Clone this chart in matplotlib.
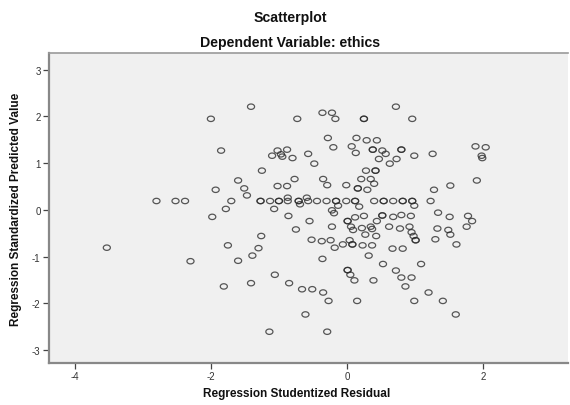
import numpy as np
import matplotlib
matplotlib.use("Agg")
import matplotlib.pyplot as plt
from matplotlib.path import Path

# Regression studentized residual (x) and standardized predicted value (y)
resid_x = [
    -2.00, -1.85, -1.93, -2.80, -2.52, -2.38, -1.78, -1.70, -1.98, -3.53, -1.75, -2.30, -1.81,
    -1.41, -0.73, -0.36, -0.22, -0.17, 0.25, 0.25, -0.28, -0.20, 0.14, 0.29, 0.44, 0.07, 0.13,
    0.38, 0.38, 0.52, 0.57, 0.47, 0.63, -1.02, -1.10, -0.97, -0.95, -0.88, -0.80, -0.57, -0.48,
    -1.25, 0.28, 0.42, 0.42, -1.60, -1.51, -1.47, -1.02, -0.88, -0.77, -0.35, -0.29, -0.01,
    0.21, 0.35, 0.16, 0.16, 0.30, 0.40,
    -1.27, -1.27, -1.13, -1.00, -1.00, -0.87, -0.71, -0.71, -0.57, -0.44, -0.30, -0.16, -0.16,
    -0.01, 0.12, 0.12, 0.40, 0.54, 0.54, 0.68, 0.82, 0.82, 0.96, 0.96, 1.23,
    -1.07, -0.87, -0.69, -0.59, -0.13, 0.18,
    -0.86, -0.55, -0.22, -0.19, 0.01, 0.01, 0.12, 0.25, 0.52, 0.52, 0.44, 0.62, -0.75, -0.22,
    0.06, 0.09, 0.22, 0.35, 0.37, 0.27, 0.43, -1.26, -0.52, -0.37, -0.24, -0.18, -0.06, 0.04,
    0.08, 0.08, 0.23, 0.37, 0.67, -1.30, -1.39, -1.60, -0.36, 0.32, 0.53, 0.01, 0.01,
    0.05, 0.11, 0.39, -1.06, -1.41, -0.85, -0.66, -0.51, -0.35, -0.27, 0.15, -0.61, -1.14, -0.29,
    0.72, 0.96, 1.89, 2.04, 1.98, 1.99, 1.91, 1.52, 1.28, 1.26, 0.99, 0.80, 0.80, 0.73,
    0.99, 0.68, 0.80, 0.94, 1.34, 1.51, 1.78, 1.84, 1.76, 0.78, 0.92, 0.95, 0.98, 1.01, 1.01,
    1.33, 1.49, 1.52, 1.30, 1.61, 0.82, 1.09, 0.72, 0.80, 0.95, 0.86, 1.20, 0.99, 1.41, 1.60,
]
pred_y = [
    1.95, 1.27, 0.43, 0.19, 0.19, 0.19, 0.02, 0.19, -0.15, -0.81, -0.76, -1.10, -1.64,
    2.21, 1.95, 2.08, 2.08, 1.95, 1.95, 1.95, 1.54, 1.34, 1.54, 1.49, 1.49, 1.36, 1.22,
    1.29, 1.29, 1.27, 1.20, 1.09, 0.99, 1.27, 1.16, 1.19, 1.14, 1.29, 1.11, 1.20, 0.99,
    0.84, 0.84, 0.84, 0.84, 0.63, 0.46, 0.31, 0.51, 0.51, 0.66, 0.66, 0.53, 0.53,
    0.66, 0.66, 0.46, 0.46, 0.43, 0.56,
    0.19, 0.19, 0.19, 0.19, 0.19, 0.19, 0.19, 0.19, 0.19, 0.19, 0.19, 0.19, 0.19,
    0.19, 0.19, 0.19, 0.19, 0.19, 0.19, 0.19, 0.19, 0.19, 0.19, 0.19, 0.19,
    0.02, 0.26, 0.12, 0.26, 0.09, 0.07,
    -0.13, -0.24, -0.01, -0.07, -0.24, -0.24, -0.16, -0.13, -0.12, -0.12, -0.24, -0.36, -0.42, -0.36,
    -0.36, -0.43, -0.39, -0.36, -0.41, -0.53, -0.56, -0.56, -0.64, -0.67, -0.65, -0.81, -0.74, -0.65,
    -0.74, -0.74, -0.76, -0.76, -0.83, -0.82, -0.98, -1.09, -1.05, -0.98, -1.16, -1.29, -1.29,
    -1.39, -1.51, -1.51, -1.39, -1.57, -1.57, -1.70, -1.70, -1.77, -1.95, -1.95, -2.24, -2.61, -2.61,
    2.21, 1.95, 1.36, 1.34, 1.16, 1.11, 0.63, 0.52, 0.43, 1.20, 1.16, 1.29, 1.29, 1.09,
    0.09, -0.15, -0.11, -0.13, -0.06, -0.15, -0.13, -0.24, -0.36, -0.40, -0.36, -0.48, -0.56, -0.65, -0.65,
    -0.40, -0.43, -0.53, -0.63, -0.74, -0.83, -1.16, -1.30, -1.45, -1.45, -1.64, -1.77, -1.95, -1.95, -2.24,
]

x_ticks = [-4, -2, 0, 2]
y_ticks = [-3, -2, -1, 0, 1, 2, 3]

plt.rcParams['font.family'] = ['Liberation Sans', 'DejaVu Sans']

fig = plt.figure(figsize=(5.70, 4.06), dpi=100)
ax = fig.add_axes([49 / 570, 1 - 364 / 406, (568 - 49) / 570, (364 - 54) / 406])
ax.set_facecolor('#f0f0f0')

t = np.linspace(0, 2 * np.pi, 41)
ell = Path(np.column_stack([np.cos(t), 0.76 * np.sin(t)]), closed=True)

ax.scatter(resid_x, pred_y, s=26, marker=ell, facecolors='none',
           edgecolors='#2a2a2a', linewidths=0.9, alpha=0.78, zorder=3)

ax.set_xlim(-4.38, 3.25)
ax.set_ylim(-3.28, 3.36)
ax.set_xticks(x_ticks)
ax.set_yticks(y_ticks)
ax.set_xticklabels([str(v) for v in x_ticks])
ax.set_yticklabels([str(v) for v in y_ticks])
ax.tick_params(axis='both', direction='out', length=4, width=0.9, color='#444444',
               labelsize=7, labelcolor='#333333', pad=2)

for side in ['left', 'bottom']:
    ax.spines[side].set_color('#888888')
    ax.spines[side].set_linewidth(1.6)
ax.spines['top'].set_color('#9a9a9a')
ax.spines['top'].set_linewidth(1.2)
ax.spines['right'].set_visible(False)

fig.text(290 / 570, 1 - 18 / 406, 'Scatterplot', ha='center', va='center',
         fontsize=10.2, fontweight='bold', color='#111111')
fig.text(290 / 570, 1 - 43.5 / 406, 'Dependent Variable: ethics', ha='center', va='center',
         fontsize=10.2, fontweight='bold', color='#111111')
fig.text(297 / 570, 1 - 394 / 406, 'Regression Studentized Residual', ha='center', va='center',
         fontsize=8.5, fontweight='bold', color='#111111')
fig.text(16.5 / 570, 1 - 209 / 406, 'Regression Standardized Predicted Value', ha='center',
         va='center', rotation=90, fontsize=8.5, fontweight='bold', color='#111111')

fig.savefig('out.png', dpi=100)
